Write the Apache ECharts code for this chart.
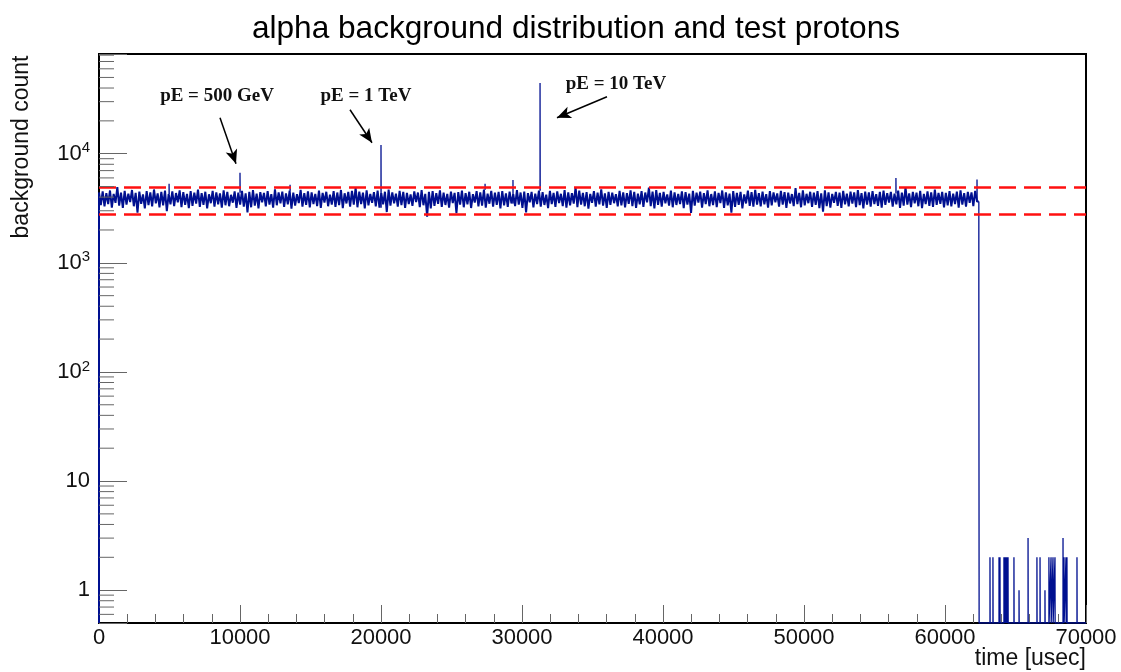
<!DOCTYPE html>
<html>
<head>
<meta charset="utf-8">
<script src="https://cdn.jsdelivr.net/npm/echarts@6/dist/echarts.min.js"></script>
<style>
html,body{margin:0;padding:0;background:#fff;}
#chart{width:1121px;height:672px;}
</style>
</head>
<body>
<div id="chart"></div>
<script>
// ---------------- data ----------------
const binWidth = 130; // usec per bin of the background band
const bandCounts = [
4420,3380,4510,3290,4350,3460,4600,3210,4280,3540,4950,3350,4390,3180,4560,3420,4310,3600,4650,3300,
4380,2880,4490,3470,4230,3150,4540,3380,4410,3290,4700,3510,4330,3220,4460,3360,4590,2980,4270,3430,
4510,3310,4360,3580,4620,3240,4440,3400,4290,3170,4530,3330,4400,3490,4680,3260,4350,3390,4480,3150,
4250,3520,4570,3280,4420,3440,4330,3210,4610,3370,4460,3300,4200,3560,4520,3190,4390,3410,4560,3270,
4340,2900,4470,3230,4640,3350,4300,3160,4450,3590,4380,3290,4550,3420,4260,3200,4720,3370,4410,3500,
4490,3260,4320,3430,4580,3140,4400,3340,4250,3530,4670,3280,4360,3390,4510,3220,4430,3460,4290,3310,
4600,3190,4370,3570,4480,3300,4220,3420,4530,3250,4410,3380,4650,3170,4340,3500,4460,3280,4570,3410,
4900,3230,4500,3460,4390,3150,4620,3360,4270,3550,4440,3290,4580,3200,4350,3430,4480,2920,4690,3340,
4420,3510,4300,3270,4560,3380,4460,3190,4370,3450,4230,3320,4520,3600,4410,3240,4640,3370,4290,2650,
4470,3160,4550,3330,4340,3470,4610,3250,4400,3390,4280,3200,4500,3520,4380,2850,4450,3410,4590,3230,
4360,3440,4480,3180,4250,3560,4530,3290,4420,3350,4680,3210,4310,3480,4570,3270,4390,3400,4460,3150,
4540,3370,4330,3250,4490,3500,4260,3310,4630,3420,4410,3190,4500,2900,4350,3580,4470,3220,4300,3460,
4580,3280,4440,3390,4210,3170,4560,3450,4380,3260,4520,3530,4290,3310,4650,3200,4430,3370,4340,3490,
4950,3230,4600,3410,4370,3300,4450,3140,4280,3550,4530,3270,4390,3440,4720,3350,4320,3180,4470,3400,
4400,3520,4260,3290,4570,3360,4430,3220,4350,3470,4610,3310,4480,3190,4300,3430,4550,3260,4410,3580,
4900,3300,4500,3150,4640,3400,4370,3280,4460,3510,4240,3350,4590,3230,4420,3390,4280,3460,4520,3170,
4450,3420,4310,2870,4560,3340,4400,3570,4490,3210,4350,3450,4620,3300,4270,3380,4510,3240,4380,3530,
4600,3190,4420,3360,4300,2880,4540,3250,4380,3400,4470,3150,4230,3500,4580,3330,4440,3270,4660,3410,
4350,3290,4490,3440,4260,3200,4530,3370,4410,3590,4320,3280,4560,3420,4450,3180,4390,3500,4270,3310,
4850,3450,4370,3230,4620,3360,4290,3520,4480,3260,4400,3390,4550,3170,4340,2950,4610,3300,4430,3210,
4280,3550,4460,3320,4390,3180,4570,3430,4310,3290,4500,3490,4420,3240,4640,3380,4360,3150,4490,3410,
4420,3270,4540,3460,4250,3330,4480,3210,4600,3400,4350,3560,4470,3280,4310,3440,4580,3190,4400,3350,
4950,3420,4320,3240,4460,3510,4390,3300,4570,3170,4290,3450,4510,3330,4430,3260,4680,3390,4370,3480,
4460,3220,4380,3370,4550,3290,4310,3460,4490,3200,4620,3410,4350,3280,4470,3540,4420,3310,4560,3650
];
// single narrow bins (test protons and other excursions)
const spikeTimes  = [4970, 10000, 13550, 20000, 27380, 29360, 31280, 56520, 62270];
const spikeCounts = [5300, 6700, 5200, 12000, 5300, 5750, 44500, 6000, 5800];
// end of the band
const dropTime = 62400, dropCount = 600;
// sparse counts after the band
const tailTimes  = [63190,63400,63830,63900,64180,64250,64320,64400,64470,64890,65250,65890,66520,66740,67090,67370,67520,67660,67800,68370,68440,68580,68650,69360];
const tailCounts = [2,2,2,2,2,2,2,2,2,2,1,3,2,2,1,2,2,2,2,3,2,2,2,2];
// band limits (red dashed lines)
const limitValues = [4900, 2800];
// annotations
const noteTexts = ['pE = 500 GeV', 'pE = 1 TeV', 'pE = 10 TeV'];
const noteAt    = [[8369, 33970], [18936, 33970], [36666, 43650]];
const arrowFrom = [[8581, 21330], [17801, 25270], [36027, 33230]];
const arrowTo   = [[9716, 8100], [19361, 12610], [32481, 21330]];
// axes
const xMin = 0, xMax = 70000, xStep = 10000;
const yMin = 0.5, yMax = 82000;
const narrowBin = 10;

// ---------------- build histogram outline ----------------
const pos = v => (v > 0 ? v : yMin);
// dense band part
const bandPts = [[0, pos(0)]];
for (let i = 0; i < bandCounts.length; i++) {
  const x0 = i * binWidth, v = bandCounts[i];
  bandPts.push([x0, v], [x0 + binWidth, v]);
}
// narrow bins: spikes on top of the band, the drop and the sparse tail
const thinPts = [];
for (let k = 0; k < spikeTimes.length; k++) {
  const t = spikeTimes[k];
  const base = bandCounts[Math.min(bandCounts.length - 1, Math.floor(t / binWidth))];
  thinPts.push([t, base], [t, spikeCounts[k]], [t + narrowBin, spikeCounts[k]], [t + narrowBin, base], [null, null]);
}
const lastBand = bandCounts[bandCounts.length - 1];
thinPts.push([dropTime, lastBand], [dropTime, dropCount], [dropTime + 2 * narrowBin, dropCount], [dropTime + 2 * narrowBin, pos(0)]);
for (let k = 0; k < tailTimes.length; k++) {
  const t = tailTimes[k];
  thinPts.push([t, pos(0)], [t, tailCounts[k]], [t + narrowBin, tailCounts[k]], [t + narrowBin, pos(0)]);
}
thinPts.push([xMax, pos(0)]);

// minor ticks of log axis
const minorY = [];
for (let e = -1; e <= 4; e++) for (let m = 2; m <= 9; m++) {
  const v = m * Math.pow(10, e);
  if (v > yMin && v < yMax) minorY.push([xMin, v]);
}

const FONT = 'Liberation Sans';
const BLUE = '#001090';
const chart = echarts.init(document.getElementById('chart'), null, {renderer: 'canvas'});
chart.setOption({
  animation: false,
  backgroundColor: '#fff',
  title: {
    text: 'alpha background distribution and test protons',
    left: 571, top: 8, textAlign: 'center',
    textStyle: {fontFamily: FONT, fontSize: 31.6, fontWeight: 'normal', color: '#000'}
  },
  grid: {left: 99, right: 35, top: 54, bottom: 49, show: true, borderColor: '#000', borderWidth: 2, backgroundColor: 'transparent'},
  xAxis: {
    type: 'value', min: xMin, max: xMax, interval: xStep,
    axisLine: {show: true, lineStyle: {color: '#000', width: 2}},
    axisTick: {show: true, inside: true, length: 18, lineStyle: {color: '#666', width: 1}},
    minorTick: {show: true, splitNumber: 5, length: 9, lineStyle: {color: '#666', width: 1}},
    splitLine: {show: false},
    axisLabel: {fontFamily: FONT, fontSize: 22, color: '#111', margin: 4, showMinLabel: true, showMaxLabel: true,
                formatter: v => String(v)}
  },
  yAxis: {
    type: 'log', logBase: 10, min: yMin, max: yMax,
    axisLine: {show: true, lineStyle: {color: '#000', width: 2}},
    axisTick: {show: true, inside: true, length: 28, lineStyle: {color: '#666', width: 1}},
    splitLine: {show: false},
    axisLabel: {
      margin: 9, fontFamily: FONT, fontSize: 22, color: '#111',
      formatter: function (v) {
        const l = Math.log10(v), e = Math.round(l);
        if (Math.abs(l - e) > 1e-6) return '';
        if (e === 0) return '1';
        if (e === 1) return '10';
        return '{b|10}{s|' + e + '}';
      },
      rich: {
        b: {fontFamily: FONT, fontSize: 22, lineHeight: 26, color: '#111'},
        s: {fontFamily: FONT, fontSize: 15, lineHeight: 15, verticalAlign: 'top', color: '#111'}
      }
    }
  },
  graphic: [
    {type: 'text', x: 22, y: 147, rotation: Math.PI / 2,
     style: {text: 'background count', font: '23px "Liberation Sans"', fill: '#111', align: 'center', verticalAlign: 'middle'}},
    {type: 'text', x: 1086, y: 659,
     style: {text: 'time [usec]', font: '23px "Liberation Sans"', fill: '#111', align: 'right', verticalAlign: 'middle'}}
  ],
  series: [
    {
      name: 'background', type: 'line', data: bandPts, showSymbol: false, symbol: 'none',
      lineStyle: {color: BLUE, width: 2}, clip: true, z: 2
    },
    {
      name: 'narrow bins', type: 'line', data: thinPts, showSymbol: false, symbol: 'none', connectNulls: false,
      lineStyle: {color: BLUE, width: 1.3}, clip: true, z: 3
    },
    {
      name: 'limits', type: 'line', data: [], z: 5,
      markLine: {
        silent: true, symbol: ['none', 'none'], label: {show: false},
        lineStyle: {color: '#ff1010', width: 2.5, type: [17, 8]},
        data: limitValues.map(v => ({yAxis: v}))
      }
    },
    {
      name: 'notes', type: 'line', data: [], z: 6,
      markLine: {
        silent: true, symbol: ['none', 'arrow'], symbolSize: [9, 14], label: {show: false},
        lineStyle: {color: '#000', width: 1.5, type: 'solid'},
        data: arrowFrom.map((a, i) => [{coord: a}, {coord: arrowTo[i]}])
      },
      markPoint: {
        silent: true, symbol: 'circle', symbolSize: 0,
        label: {show: true, position: 'inside', fontFamily: 'Liberation Serif', fontWeight: 'bold', fontSize: 19, color: '#111',
                formatter: p => p.name},
        data: noteTexts.map((t, i) => ({name: t, coord: noteAt[i]}))
      }
    },
    {
      name: 'minorTicks', type: 'custom', data: minorY, silent: true, z: 7,
      renderItem: function (params, api) {
        const p = api.coord([api.value(0), api.value(1)]);
        return {type: 'line', shape: {x1: p[0], y1: p[1], x2: p[0] + 15, y2: p[1]}, style: {stroke: '#666', lineWidth: 1}};
      }
    }
  ]
});
</script>
</body>
</html>
